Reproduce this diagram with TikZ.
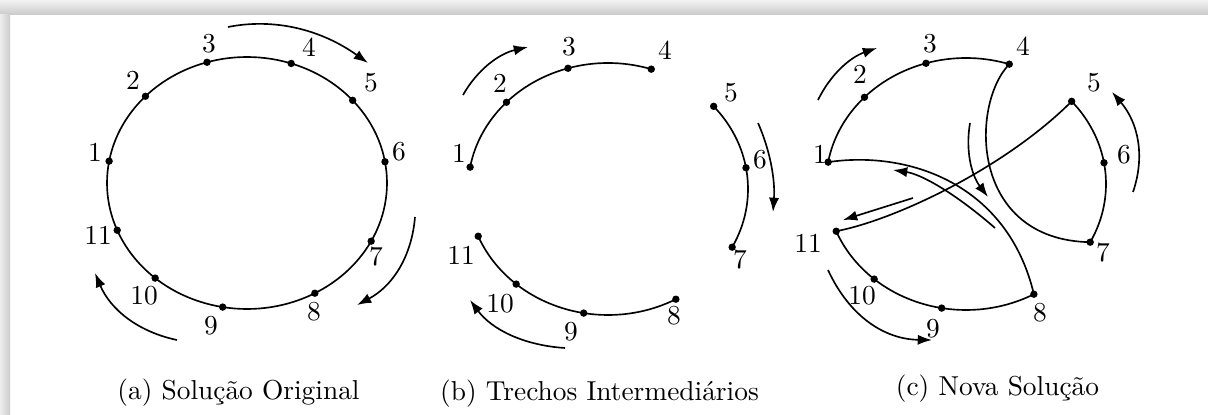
\documentclass[tikz,border=0pt]{standalone}
\usetikzlibrary{arrows.meta}
\begin{document}
\begin{tikzpicture}[x=0.365pt,y=-0.365pt,
  curve/.style={line width=0.6pt},
  flow/.style={line width=0.6pt,-{Latex[length=5.2pt,width=3.7pt]}},
  dot/.style={circle,fill=black,inner sep=0pt,minimum size=2.7pt},
  lab/.style={inner sep=0pt,font=\fontsize{10}{12}\selectfont},
  captxt/.style={inner sep=0pt,anchor=base,font=\fontsize{10}{12}\selectfont}]
% background and frame shadow
\useasboundingbox (0,0) rectangle (1208,415);
\fill[white] (0,0) rectangle (1208,415);
\shade[top color=gray!10,bottom color=gray!42] (0,0) rectangle (1208,15);
\shade[left color=gray!14,right color=gray!40] (0,15) rectangle (10,415);

% ---------------- (a) ----------------
\draw[curve] plot[domain=0:360,samples=145] ({247+140*cos(\x)},{183-126*sin(\x)});
\foreach \n/\a in {1/170,2/136.5,3/106.6,4/71.6,5/41,6/9.7,7/-27.5,8/-61,9/-100,10/-131,11/-158}
  \node[dot] (a\n) at ({247+140*cos(\a)},{183-126*sin(\a)}) {};
\foreach \n/\p in {1/{(95,152)},2/{(133,80)},3/{(209,44)},4/{(309,47)},5/{(371,83)},6/{(399,152)},7/{(376,257)},8/{(314,312)},9/{(211,326)},10/{(144,296)},11/{(98,235)}}
  \node[lab] (la\n) at \p {\n};
\coordinate (aA1s) at (228,27);  \coordinate (aA1e) at (368,63);
\coordinate (aA2s) at (415,217); \coordinate (aA2e) at (357,305);
\coordinate (aA3s) at (177,340); \coordinate (aA3e) at (95,273);
\draw[flow] (aA1s) .. controls (274.7,17.7) and (321.3,29.7) .. (aA1e);
\draw[flow] (aA2s) .. controls (411.7,257) and (392.3,286.3) .. (aA2e);
\draw[flow] (aA3s) .. controls (137.7,331.7) and (110.3,309.3) .. (aA3e);
\node[captxt] (capa) at (238.5,399) {(a) Solução Original};

% ---------------- (b) ----------------
\draw[curve] plot[domain=170:72,samples=50] ({608+140*cos(\x)},{189-126*sin(\x)});
\draw[curve] plot[domain=41:-27.5,samples=40] ({608+140*cos(\x)},{189-126*sin(\x)});
\draw[curve] plot[domain=-61:-158,samples=50] ({608+140*cos(\x)},{189-126*sin(\x)});
\foreach \n/\a in {1/170,2/136.5,3/106.6,4/72,5/41,6/9.7,7/-27.5,8/-61,9/-100,10/-131,11/-158}
  \node[dot] (b\n) at ({608+140*cos(\a)},{189-126*sin(\a)}) {};
\foreach \n/\p in {1/{(459,153)},2/{(500,83)},3/{(569,47)},4/{(665,50)},5/{(731,93)},6/{(760,160)},7/{(740,260)},8/{(674,316)},9/{(571,332)},10/{(500,304)},11/{(461,255)}}
  \node[lab] (lb\n) at \p {\n};
\coordinate (bA1s) at (463,95);  \coordinate (bA1e) at (528,47);
\coordinate (bA2s) at (758,123); \coordinate (bA2e) at (773,212);
\coordinate (bA3s) at (565,348); \coordinate (bA3e) at (470,300);
\draw[flow] (bA1s) .. controls (477.3,69.7) and (499,53.7) .. (bA1e);
\draw[flow] (bA2s) .. controls (770.3,150.7) and (775.3,180.3) .. (bA2e);
\draw[flow] (bA3s) .. controls (523.3,345.3) and (491.7,329.3) .. (bA3e);
\node[captxt] (capb) at (599.5,400) {(b) Trechos Intermediários};

% ---------------- (c) ----------------
\draw[curve] plot[domain=170:72,samples=50] ({966+140*cos(\x)},{184-126*sin(\x)});
\draw[curve] plot[domain=41:-27.5,samples=40] ({966+140*cos(\x)},{184-126*sin(\x)});
\draw[curve] plot[domain=-61:-158,samples=50] ({966+140*cos(\x)},{184-126*sin(\x)});
\foreach \n/\a in {1/170,2/136.5,3/106.6,4/72,5/41,6/9.7,7/-27.5,8/-61,9/-100,10/-131,11/-158}
  \node[dot] (c\n) at ({966+140*cos(\a)},{184-126*sin(\a)}) {};
\draw[curve] (c4.center) .. controls (970,105) and (970,240) .. (c7.center);
\draw[curve] (c5.center) .. controls (1005,168) and (895,220) .. (c11.center);
\draw[curve] (c1.center) .. controls (910,150) and (1008,185) .. (c8.center);
\foreach \n/\p in {1/{(820,154)},2/{(860,74)},3/{(930,44)},4/{(1023,46)},5/{(1094,83)},6/{(1124,155)},7/{(1103,253)},8/{(1040,313)},9/{(933,329)},10/{(862,296)},11/{(808,243)}}
  \node[lab] (lc\n) at \p {\n};
\coordinate (cA1s) at (818,100);  \coordinate (cA1e) at (877,48);
\coordinate (cA2s) at (1133,192); \coordinate (cA2e) at (1112,92);
\coordinate (cA3s) at (828,270);  \coordinate (cA3e) at (932,340);
\coordinate (cA4s) at (970,123);  \coordinate (cA4e) at (988,197);
\coordinate (cA5s) at (995,228);  \coordinate (cA5e) at (893,170);
\coordinate (cA6s) at (913,198);  \coordinate (cA6e) at (843,220);
\draw[flow] (cA1s) .. controls (830.3,74.7) and (850,57.3) .. (cA1e);
\draw[flow] (cA2s) .. controls (1145.3,156) and (1138.3,122.7) .. (cA2e);
\draw[flow] (cA3s) .. controls (849.3,316) and (884,339.3) .. (cA3e);
\draw[flow] (cA4s) .. controls (965.3,150.3) and (971.3,175) .. (cA4e);
\draw[flow] (cA5s) .. controls (955.7,193.7) and (921.7,174.3) .. (cA5e);
\draw[flow] (cA6s) -- (cA6e);
\node[captxt] (capc) at (997.5,395) {(c) Nova Solução};
\end{tikzpicture}
\end{document}
